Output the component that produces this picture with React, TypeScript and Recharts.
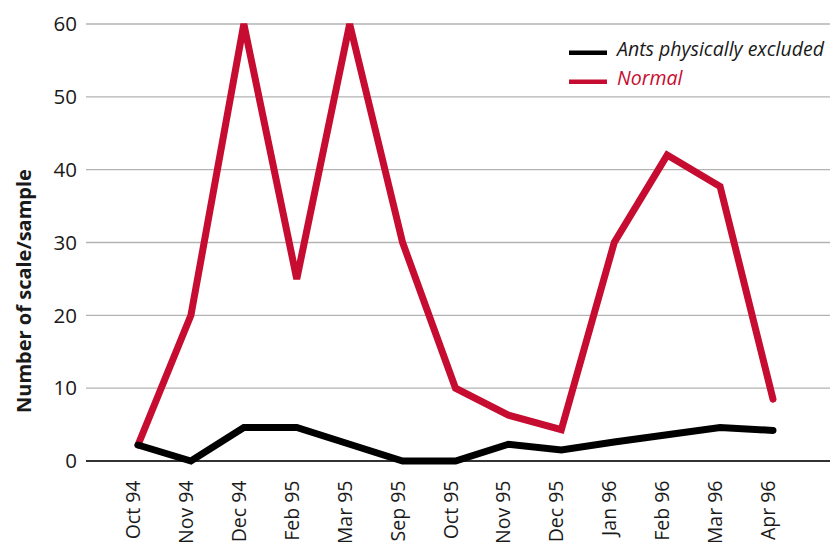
import React from 'react';
import { LineChart, Line, XAxis, YAxis, CartesianGrid } from 'recharts';

const categories = ['Oct 94', 'Nov 94', 'Dec 94', 'Feb 95', 'Mar 95', 'Sep 95', 'Oct 95', 'Nov 95', 'Dec 95', 'Jan 96', 'Feb 96', 'Mar 96', 'Apr 96'];
const antsExcluded = [2.2, 0, 4.6, 4.6, 2.3, 0, 0, 2.3, 1.5, 2.6, 3.6, 4.6, 4.2];
const normal = [2.2, 20, 60, 25, 60, 30, 10, 6.3, 4.3, 30, 42, 37.7, 8.5];
const yTicks = [0, 10, 20, 30, 40, 50, 60];
const seriesNames = ['Ants physically excluded', 'Normal'];
const yAxisTitle = 'Number of scale/sample';

const RED = '#c60c30';
const BLACK = '#000000';
const FONT = '"Open Sans", "Noto Sans", sans-serif';

const data = categories.map((c, i) => ({ cat: c, ants: antsExcluded[i], normal: normal[i] }));

const XTick = (props: any) => {
  const { x, y, payload } = props;
  return (
    <g transform={`translate(${x},${y + 19.5}) rotate(-90)`}>
      <text x={0} y={0} dy={2} textAnchor="end" fontSize={19.5} fill="#1a1a1a" fontFamily={FONT}>
        {payload.value}
      </text>
    </g>
  );
};

const YTitle = () => (
  <text
    x={31}
    y={291}
    transform="rotate(-90 31 291)"
    textAnchor="middle"
    fontSize={20}
    fontWeight="bold"
    fill="#1a1a1a"
    fontFamily={FONT}
  >
    {yAxisTitle}
  </text>
);

const legendItems = [
  { name: seriesNames[0], color: BLACK, textColor: '#1a1a1a' },
  { name: seriesNames[1], color: RED, textColor: RED },
];

export default function App() {
  return (
    <div style={{ position: 'absolute', left: 0, top: 0, width: 830, height: 542 }}>
      <LineChart width={830} height={542} data={data} margin={{ top: 24, right: 0, bottom: 0, left: 0 }}>
        <CartesianGrid vertical={false} stroke="#b3b3b3" strokeWidth={1.3} />
        <XAxis
          dataKey="cat"
          height={81}
          padding={{ left: 52, right: 57 }}
          axisLine={{ stroke: '#000', strokeWidth: 1.3 }}
          tickLine={false}
          tickSize={0}
          tickMargin={0}
          interval={0}
          tick={<XTick />}
        />
        <YAxis
          type="number"
          domain={[0, 60]}
          ticks={yTicks}
          width={86}
          axisLine={false}
          tickLine={false}
          tickSize={0}
          tickMargin={9}
          tick={{ fontSize: 20.5, fill: '#1a1a1a', fontFamily: FONT }}
          label={<YTitle />}
        />
        <Line
          type="linear"
          dataKey="normal"
          name={seriesNames[1]}
          stroke={RED}
          strokeWidth={7}
          strokeLinecap="round"
          dot={false}
          activeDot={false}
          isAnimationActive={false}
        />
        <Line
          type="linear"
          dataKey="ants"
          name={seriesNames[0]}
          stroke={BLACK}
          strokeWidth={7}
          strokeLinecap="round"
          dot={false}
          activeDot={false}
          isAnimationActive={false}
        />
      </LineChart>
      <svg width={830} height={100} style={{ position: 'absolute', left: 0, top: 0, pointerEvents: 'none' }}>
        {legendItems.map((it, i) => (
          <g key={it.name}>
            <rect x={569} y={50.5 + i * 29} width={38} height={4.5} fill={it.color} />
            <text x={617} y={55.5 + i * 29.5} fontSize={19.5} fontStyle="italic" fill={it.textColor} fontFamily={FONT}>
              {it.name}
            </text>
          </g>
        ))}
      </svg>
    </div>
  );
}
